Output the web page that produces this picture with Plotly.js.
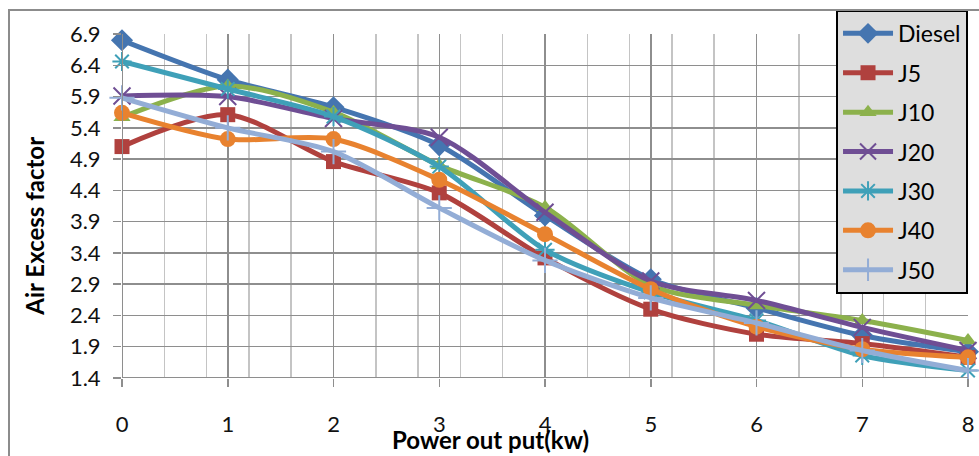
<!DOCTYPE html>
<html>
<head>
<meta charset="utf-8">
<script src="https://cdn.plot.ly/plotly-3.0.1.min.js"></script>
<style>
html,body{margin:0;padding:0;background:#fff;}
#wrap{position:relative;width:979px;height:456px;overflow:hidden;}
#chart{width:979px;height:456px;}
#frame{position:absolute;left:8px;top:9px;width:1200px;height:800px;border-left:2px solid #8c8c8c;border-top:2px solid #8c8c8c;pointer-events:none;}
</style>
</head>
<body>
<div id="wrap"><div id="chart"></div><div id="frame"></div></div>
<script>
const power = [0, 1, 2, 3, 4, 5, 6, 7, 8];
const seriesNames = ["Diesel", "J5", "J10", "J20", "J30", "J40", "J50"];
const diesel = [6.80, 6.17, 5.73, 5.12, 4.00, 2.98, 2.52, 2.08, 1.82];
const j5     = [5.10, 5.61, 4.86, 4.36, 3.32, 2.50, 2.10, 1.95, 1.73];
const j10    = [5.57, 6.07, 5.65, 4.80, 4.13, 2.88, 2.56, 2.32, 2.00];
const j20    = [5.91, 5.90, 5.55, 5.25, 4.05, 2.95, 2.64, 2.21, 1.84];
const j30    = [6.46, 6.02, 5.58, 4.78, 3.45, 2.77, 2.32, 1.76, 1.52];
const j40    = [5.64, 5.22, 5.22, 4.57, 3.70, 2.82, 2.22, 1.86, 1.73];
const j50    = [5.88, 5.40, 5.02, 4.12, 3.28, 2.68, 2.28, 1.84, 1.52];
const yTicks = [1.4, 1.9, 2.4, 2.9, 3.4, 3.9, 4.4, 4.9, 5.4, 5.9, 6.4, 6.9];

const values = [diesel, j5, j10, j20, j30, j40, j50];
const colors = ["#4575B0", "#B0413E", "#8CB14C", "#6F4E94", "#3FA0B8", "#E8822F", "#93ADD6"];
const symbols = ["diamond", "square", "triangle-up", "x-thin-open", "asterisk-open", "circle", "cross-thin-open"];
const sizes = [17, 15, 15, 17, 16, 16, 18];

const FONT = "Lato, 'Open Sans', 'Liberation Sans', sans-serif";

const traces = seriesNames.map((name, i) => ({
  x: power,
  y: values[i],
  name: name,
  legendgroup: name,
  type: "scatter",
  mode: "lines+markers",
  cliponaxis: false,
  line: {color: colors[i], width: 5, shape: "spline", smoothing: 0.8},
  marker: {
    symbol: symbols[i],
    size: sizes[i],
    color: colors[i],
    line: {color: colors[i], width: (symbols[i].indexOf("open") >= 0) ? 2 : 0}
  }
}));

const layout = {
  width: 979,
  height: 456,
  margin: {l: 122, r: 11, t: 33, b: 78},
  paper_bgcolor: "#ffffff",
  plot_bgcolor: "#ffffff",
  font: {family: FONT, size: 22, color: "#111"},
  showlegend: true,
  legend: {
    x: 0.844, y: 1.067, xanchor: "left", yanchor: "top",
    bgcolor: "#dedede",
    bordercolor: "#000",
    borderwidth: 2,
    font: {family: FONT, size: 23, color: "#000"},
    tracegroupgap: 6.5,
    itemwidth: 50,
    maxheight: 400
  },
  xaxis: {
    range: [0, 8],
    tickmode: "array",
    tickvals: power,
    ticktext: power.map(String),
    showgrid: true,
    gridcolor: "#8e8e8e",
    gridwidth: 1.5,
    zeroline: false,
    showline: false,
    ticks: "outside",
    ticklen: 8,
    tickwidth: 1.5,
    tickcolor: "#8e8e8e",
    ticklabelstandoff: 19,
    tickfont: {family: FONT, size: 22, color: "#111"},
    minor: {dtick: 0.4, tick0: 0, showgrid: true, gridcolor: "#c4c4c4", gridwidth: 1.5, ticks: ""},
    fixedrange: true
  },
  yaxis: {
    range: [1.4, 6.9],
    tickmode: "array",
    tickvals: yTicks,
    ticktext: yTicks.map(v => v.toFixed(1)),
    showgrid: true,
    gridcolor: "#8e8e8e",
    gridwidth: 1.5,
    zeroline: false,
    showline: false,
    ticks: "outside",
    ticklen: 8,
    tickwidth: 1.5,
    tickcolor: "#8e8e8e",
    ticklabelstandoff: 8,
    tickfont: {family: FONT, size: 22, color: "#111"},
    fixedrange: true
  },
  shapes: [
    {type: "line", xref: "x", yref: "paper", x0: 0, x1: 0, y0: 0, y1: 1, line: {color: "#8e8e8e", width: 2}, layer: "above"},
    {type: "line", xref: "paper", yref: "y", x0: 0, x1: 1, y0: 1.4, y1: 1.4, line: {color: "#8e8e8e", width: 2}, layer: "above"}
  ],
  annotations: [
    {text: "<b>Air Excess factor</b>", xref: "paper", yref: "paper", x: -0.1028, y: 0.44, textangle: -90,
     showarrow: false, xanchor: "center", yanchor: "middle", font: {family: FONT, size: 24, color: "#000"}},
    {text: "<b>Power out put(kw)</b>", xref: "paper", yref: "paper", x: 0.436, y: -0.18,
     showarrow: false, xanchor: "center", yanchor: "middle", font: {family: FONT, size: 24, color: "#000"}}
  ]
};

Plotly.newPlot("chart", traces, layout, {displayModeBar: false, staticPlot: true});
</script>
</body>
</html>
